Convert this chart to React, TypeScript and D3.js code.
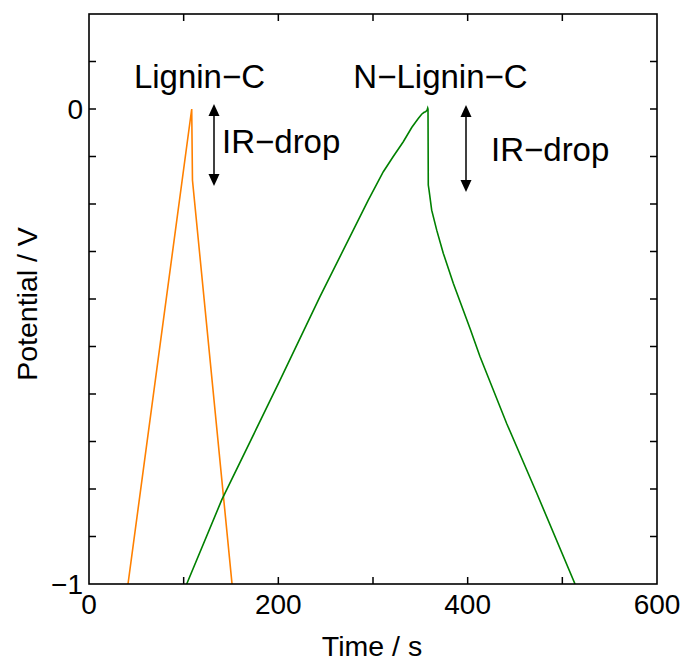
import React from "react";
import * as d3 from "d3";

const ligninTime = [41.2, 108.5, 109.3, 151.1];
const ligninPotential = [-1, 0, -0.15, -1];

const nLigninTime = [103.2, 140.2, 201.8, 244, 295, 310.9, 321.4, 332, 340.9, 347.8, 351.4, 354, 355.5, 357, 357.8, 358.1, 358.4, 359.2, 362, 367.3, 374.3, 384.8, 402.5, 413, 441.2, 473, 513.4];
const nLigninPotential = [-1, -0.823, -0.571, -0.395, -0.192, -0.132, -0.1, -0.069, -0.039, -0.02, -0.011, -0.007, -0.006, -0.003, 0.002, 0, -0.16, -0.171, -0.213, -0.255, -0.304, -0.367, -0.462, -0.521, -0.662, -0.809, -1];

const xTickValues = [0, 100, 200, 300, 400, 500, 600];
const xTickLabels = ["0", "", "200", "", "400", "", "600"];
const yTickValues = [-1, -0.9, -0.8, -0.7, -0.6, -0.5, -0.4, -0.3, -0.2, -0.1, 0, 0.1, 0.2];
const yTickLabels: Record<string, string> = { "-1": "\u22121", "0": "0" };

const W = 686, H = 663;
const L = 89, R = 657, T = 14, B = 584;
const FONT = "'Liberation Sans', Arial, sans-serif";

export default function App() {
  const x = d3.scaleLinear().domain([0, 600]).range([L, R]);
  const y = d3.scaleLinear().domain([-1, 0.2]).range([B, T]);
  const line = d3.line<[number, number]>().x(d => x(d[0])).y(d => y(d[1]));
  const lig = line(ligninTime.map((t, i) => [t, ligninPotential[i]]) as [number, number][]) || "";
  const nlig = line(nLigninTime.map((t, i) => [t, nLigninPotential[i]]) as [number, number][]) || "";
  const tl = 7;

  const arrow = (cx: number, y1: number, y2: number) => (
    <g>
      <line x1={cx} x2={cx} y1={y1 + 10} y2={y2 - 10} stroke="#000" strokeWidth={1.5} />
      <path d={`M${cx},${y1} L${cx - 5.5},${y1 + 12} L${cx + 5.5},${y1 + 12} Z`} fill="#000" />
      <path d={`M${cx},${y2} L${cx - 5.5},${y2 - 12} L${cx + 5.5},${y2 - 12} Z`} fill="#000" />
    </g>
  );

  return (
    <svg width={W} height={H} style={{ position: "absolute", left: 0, top: 0, background: "#fff" }} fontFamily={FONT}>
      <rect width={W} height={H} fill="#fff" />
      <defs>
        <clipPath id="plotclip"><rect x={L} y={T} width={R - L} height={B - T} /></clipPath>
      </defs>
      <g clipPath="url(#plotclip)">
        <path d={lig} fill="none" stroke="#ff8000" strokeWidth={1.6} />
        <path d={nlig} fill="none" stroke="#008000" strokeWidth={1.6} />
      </g>
      {xTickValues.map((v, i) => (
        <g key={"x" + i}>
          {v > 0 && v < 600 && <>
            <line x1={x(v)} x2={x(v)} y1={B} y2={B - tl} stroke="#000" strokeWidth={1.5} />
            <line x1={x(v)} x2={x(v)} y1={T} y2={T + tl} stroke="#000" strokeWidth={1.5} />
          </>}
          {xTickLabels[i] && <text x={x(v)} y={614} textAnchor="middle" fontSize={28}>{xTickLabels[i]}</text>}
        </g>
      ))}
      {yTickValues.map((v, i) => (
        <g key={"y" + i}>
          {i > 0 && i < yTickValues.length - 1 && <>
            <line x1={L} x2={L + tl} y1={y(v)} y2={y(v)} stroke="#000" strokeWidth={1.5} />
            <line x1={R} x2={R - tl} y1={y(v)} y2={y(v)} stroke="#000" strokeWidth={1.5} />
          </>}
          {yTickLabels[String(Math.round(v * 10) / 10)] && (
            <text x={83} y={y(v) + 10} textAnchor="end" fontSize={28}>{yTickLabels[String(Math.round(v * 10) / 10)]}</text>
          )}
        </g>
      ))}
      <rect x={L} y={T} width={R - L} height={B - T} fill="none" stroke="#000" strokeWidth={1.6} />
      <text x={372} y={656} textAnchor="middle" fontSize={28.5}>Time / s</text>
      <text transform={`translate(37,304) rotate(-90)`} textAnchor="middle" fontSize={28.5}>Potential / V</text>
      <text x={199.5} y={88} textAnchor="middle" fontSize={33}>Lignin{"\u2212"}C</text>
      <text x={440.5} y={88} textAnchor="middle" fontSize={33}>N{"\u2212"}Lignin{"\u2212"}C</text>
      <text x={222} y={153} fontSize={33}>IR{"\u2212"}drop</text>
      <text x={491} y={161} fontSize={33}>IR{"\u2212"}drop</text>
      {arrow(214, 104, 186)}
      {arrow(466, 105, 192)}
    </svg>
  );
}
